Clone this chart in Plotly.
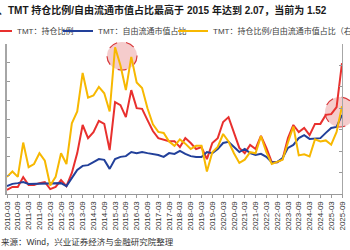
import plotly.graph_objects as go

quarters = [
    "2010-03", "2010-06", "2010-09", "2010-12", "2011-03", "2011-06", "2011-09", "2011-12",
    "2012-03", "2012-06", "2012-09", "2012-12", "2013-03", "2013-06", "2013-09", "2013-12",
    "2014-03", "2014-06", "2014-09", "2014-12", "2015-03", "2015-06", "2015-09", "2015-12",
    "2016-03", "2016-06", "2016-09", "2016-12", "2017-03", "2017-06", "2017-09", "2017-12",
    "2018-03", "2018-06", "2018-09", "2018-12", "2019-03", "2019-06", "2019-09", "2019-12",
    "2020-03", "2020-06", "2020-09", "2020-12", "2021-03", "2021-06", "2021-09", "2021-12",
    "2022-03", "2022-06", "2022-09", "2022-12", "2023-03", "2023-06", "2023-09", "2023-12",
    "2024-03", "2024-06", "2024-09", "2024-12", "2025-03", "2025-06", "2025-09",
]

tick_labels = [
    "2010-03", "2010-09", "2011-03", "2011-09", "2012-03", "2012-09", "2013-03", "2013-09",
    "2014-03", "2014-09", "2015-03", "2015-09", "2016-03", "2016-09", "2017-03", "2017-09",
    "2018-03", "2018-09", "2019-03", "2019-09", "2020-03", "2020-09", "2021-03", "2021-09",
    "2022-03", "2022-09", "2023-03", "2023-09", "2024-03", "2024-09", "2025-03", "2025-09",
]

# TMT: fund holding ratio (%), left axis
holding_ratio = [
    6.1, 6.9, 6.9, 9.5, 7.4, 7.4, 7.9, 8.2,
    6.3, 6.9, 8.7, 7.1, 10.6, 15.9, 23.4, 19.9,
    21.5, 24.5, 23.7, 16.7, 29.5, 28.7, 25.5, 32.7,
    27.9, 27.7, 24.7, 21.8, 19.9, 19.4, 19.1, 19.1,
    17.5, 19.9, 18.6, 17.0, 17.5, 14.3, 18.6, 19.9,
    24.2, 25.5, 21.5, 17.3, 15.9, 18.1, 17.0, 20.5,
    17.3, 13.5, 13.5, 14.3, 19.9, 23.4, 21.5, 22.6,
    20.7, 23.7, 23.7, 26.1, 26.3, 28.2, 39.9,
]

# TMT: free-float market cap share (%), left axis
float_share = [
    7.1, 7.7, 7.9, 8.2, 7.7, 7.7, 7.7, 7.9,
    7.9, 7.9, 7.9, 7.1, 9.3, 11.4, 12.5, 12.7,
    13.5, 14.3, 14.1, 11.7, 14.3, 14.9, 15.1, 16.2,
    15.9, 16.2, 15.9, 15.7, 15.4, 14.9, 15.9, 15.7,
    16.5, 15.7, 15.1, 14.9, 14.9, 16.2, 15.9, 17.0,
    18.6, 18.9, 17.5, 16.2, 17.0, 15.9, 15.4, 15.7,
    14.9, 13.5, 13.5, 14.6, 17.3, 18.1, 19.9, 20.7,
    19.7, 19.9, 19.9, 21.3, 22.6, 22.9, 26.1,
]

# TMT: holding ratio / free-float share, right axis
ratio = [
    0.86, 0.91, 0.86, 1.18, 0.95, 0.98, 1.08, 1.01,
    0.78, 0.86, 1.08, 0.98, 1.36, 1.47, 1.83, 1.60,
    1.62, 1.70, 1.64, 1.47, 2.07, 1.90, 1.67, 1.98,
    1.74, 1.69, 1.50, 1.35, 1.28, 1.27, 1.19, 1.15,
    1.21, 1.17, 1.12, 1.15, 1.15, 0.91, 1.09, 1.14,
    1.26, 1.19, 1.08, 0.99, 1.02, 1.09, 1.08, 1.24,
    1.09, 0.98, 1.00, 1.02, 1.18, 1.33, 1.06, 1.07,
    1.05, 1.21, 1.19, 1.20, 1.16, 1.28, 1.52,
]

names = ["TMT：持仓比例", "TMT：自由流通市值占比", "TMT：持仓比例/自由流通市值占比（右轴）"]
colors = ["#E8302E", "#22409A", "#F7B801"]

FONT = "Liberation Sans, Noto Sans CJK SC"

fig = go.Figure()
fig.add_trace(go.Scatter(x=quarters, y=holding_ratio, name=names[0], mode="lines",
                         line=dict(color=colors[0], width=2), legend="legend"))
fig.add_trace(go.Scatter(x=quarters, y=float_share, name=names[1], mode="lines",
                         line=dict(color=colors[1], width=2), legend="legend2"))
fig.add_trace(go.Scatter(x=quarters, y=ratio, name=names[2], mode="lines",
                         line=dict(color=colors[2], width=2), yaxis="y2", legend="legend3"))

# plot area: x 7..342 px, y 44..194 px
W, H = 350, 250
L, R, T, B = 7, 8, 44, 56
PW, PH = W - L - R, H - T - B


def px(xp):
    return (xp - L) / PW


def py(yp):
    return (H - B - yp) / PH


legend_common = dict(orientation="h", xanchor="left", yanchor="middle",
                     font=dict(family=FONT, size=8, color="#404040"),
                     bgcolor="rgba(0,0,0,0)", borderwidth=0, itemwidth=30)

circle_style = dict(type="circle", xref="paper", yref="paper",
                    xsizemode="pixel", ysizemode="pixel",
                    fillcolor="rgba(228,120,120,0.38)",
                    line=dict(color="#D8393B", width=1.2, dash="dash"),
                    layer="below")

fig.update_layout(
    width=W, height=H,
    margin=dict(l=L, r=R, t=T, b=B, autoexpand=False),
    paper_bgcolor="white", plot_bgcolor="white",
    font=dict(family=FONT, size=8, color="#333333"),
    showlegend=True,
    legend=dict(x=px(-23), y=py(31), **legend_common),
    legend2=dict(x=px(58), y=py(31), **legend_common),
    legend3=dict(x=px(173), y=py(31), **legend_common),
    xaxis=dict(type="category", range=[0, len(quarters) - 1],
               tickmode="array", tickvals=tick_labels, ticktext=tick_labels,
               tickangle=-90, ticks="outside", ticklen=3, tickcolor="#9a9a9a",
               showline=True, linecolor="#9a9a9a", linewidth=1, showgrid=False,
               tickfont=dict(family=FONT, size=8, color="#333333")),
    yaxis=dict(range=[5, 45], dtick=5, tick0=5, showticklabels=False,
               ticks="inside", ticklen=3, tickcolor="#9a9a9a",
               showline=True, linecolor="#a6a6a6", linewidth=2,
               showgrid=False, zeroline=False),
    yaxis2=dict(range=[0.7, 2.1], dtick=0.2, tick0=0.7, overlaying="y", side="right",
                showticklabels=False, ticks="inside", ticklen=3, tickcolor="#9a9a9a",
                showline=True, linecolor="#a6a6a6", linewidth=1,
                showgrid=False, zeroline=False),
    shapes=[
        dict(xanchor=px(122), yanchor=py(56), x0=-15, x1=15, y0=-14, y1=14, **circle_style),
        dict(xanchor=px(340), yanchor=py(112), x0=-15, x1=15, y0=-15, y1=15, **circle_style),
    ],
    annotations=[
        dict(text="<b>、TMT 持仓比例/自由流通市值占比最高于 2015 年达到 2.07，当前为 1.52</b>",
             xref="paper", yref="paper", x=px(-4), y=py(10), xanchor="left", yanchor="middle",
             showarrow=False, font=dict(family=FONT, size=10, color="#1a1a1a")),
        dict(text="来源：Wind，兴业证券经济与金融研究院整理",
             xref="paper", yref="paper", x=px(-1), y=py(242), xanchor="left", yanchor="middle",
             showarrow=False, font=dict(family=FONT, size=8.5, color="#333333")),
    ],
)

fig.write_html("out.html")
